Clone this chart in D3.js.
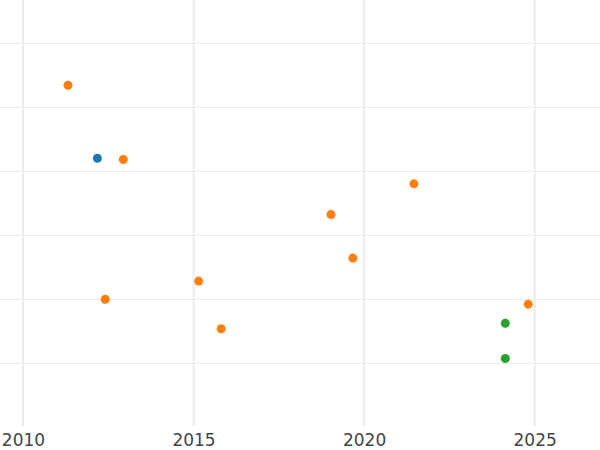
<!DOCTYPE html>
<html>
<head>
<meta charset="utf-8">
<script src="https://cdn.jsdelivr.net/npm/d3@7"></script>
<style>
  html, body { margin: 0; padding: 0; background: #fff; }
  svg { display: block; }
</style>
</head>
<body>
<svg id="chart" width="600" height="450"></svg>
<script>
// Data
const years  = [2011.32, 2012.18, 2012.94, 2021.46, 2019.03, 2019.67, 2015.15, 2012.41, 2015.81, 2024.81, 2024.14, 2024.14];
const values = [53.4,    42.0,    41.8,    38.0,    33.2,    26.4,    22.8,    19.95,   15.36,   19.2,    16.2,    10.7];
const groups = ["B",     "A",     "B",     "B",     "B",     "B",     "B",     "B",     "B",     "B",     "C",     "C"];
const xTicks = [2010, 2015, 2020, 2025];
const yTicks = [10, 20, 30, 40, 50, 60];
const groupNames = ["A", "B", "C"];
const groupColors = ["#1f77b4", "#ff7f0e", "#2ca02c"];

const W = 600, H = 450;
const plotBottom = 426;
const svg = d3.select("#chart");

const x = d3.scaleLinear().domain([2009.326, 2026.916]).range([0, W]);
const y = d3.scaleLinear().domain([0.16, 66.72]).range([plotBottom, 0]);
const color = d3.scaleOrdinal().domain(groupNames).range(groupColors);

// horizontal gridlines
svg.append("g")
  .selectAll("line")
  .data(yTicks)
  .join("line")
  .attr("x1", 0).attr("x2", W)
  .attr("y1", d => Math.round(y(d)) + 0.5)
  .attr("y2", d => Math.round(y(d)) + 0.5)
  .attr("stroke", "#ebebeb")
  .attr("stroke-width", 1);

// vertical gridlines
svg.append("g")
  .selectAll("line")
  .data(xTicks)
  .join("line")
  .attr("x1", d => x(d)).attr("x2", d => x(d))
  .attr("y1", 0).attr("y2", plotBottom)
  .attr("stroke", "#ebebeb")
  .attr("stroke-width", 2);

// x axis labels
const xAxis = d3.axisBottom(x).tickValues(xTicks).tickFormat(d3.format("d")).tickSize(0).tickPadding(0);
const gx = svg.append("g").attr("transform", `translate(0,${plotBottom})`).call(xAxis);
gx.select(".domain").remove();
gx.selectAll("text")
  .attr("dy", null)
  .attr("y", 20)
  .attr("fill", "#444")
  .style("font-family", "'DejaVu Sans', sans-serif")
  .style("font-size", "17px");

// points
const pts = years.map((yr, i) => ({ year: yr, value: values[i], group: groups[i] }));
svg.append("g")
  .selectAll("circle")
  .data(pts)
  .join("circle")
  .attr("cx", d => x(d.year))
  .attr("cy", d => y(d.value))
  .attr("r", 4.5)
  .attr("fill", d => color(d.group));
</script>
</body>
</html>
